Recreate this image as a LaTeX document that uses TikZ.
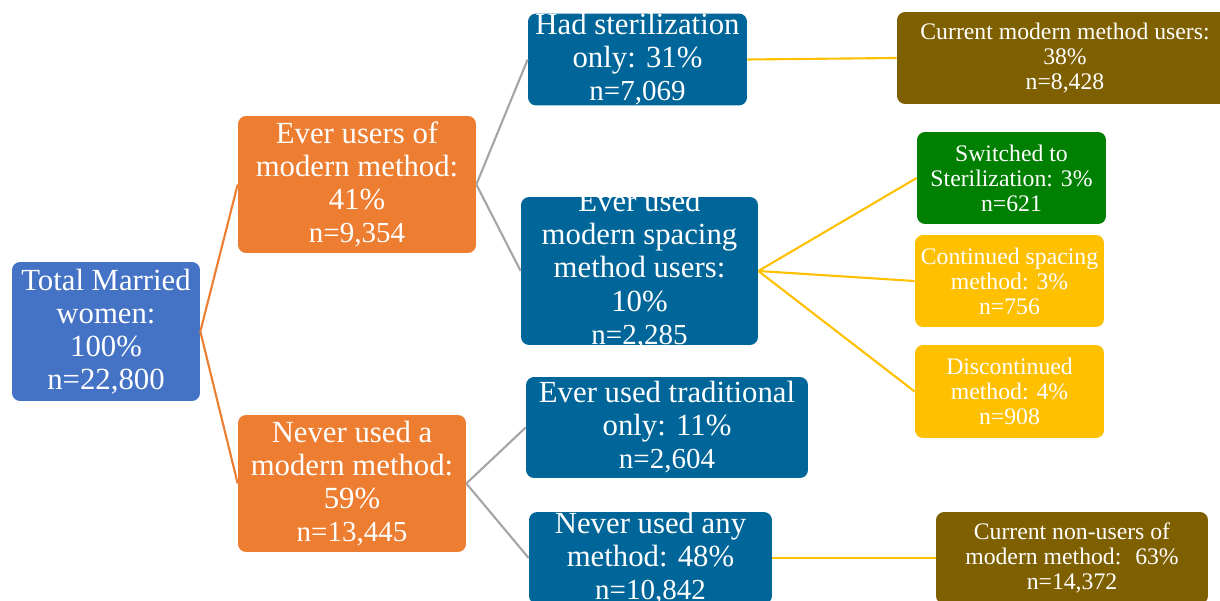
\documentclass[tikz,border=0pt]{standalone}
\usepackage{fontspec}
\setmainfont{Liberation Serif}
\usepackage{tikz}

\definecolor{totalblue}{HTML}{4472C4}
\definecolor{everorange}{HTML}{ED7D31}
\definecolor{deepblue}{HTML}{006699}
\definecolor{olivebrown}{HTML}{7F6000}
\definecolor{leafgreen}{HTML}{008000}
\definecolor{amber}{HTML}{FFC000}
\definecolor{linegray}{HTML}{A5A5A5}

\newcommand{\nline}[1]{{\fontsize{16.5}{18.8}\selectfont #1}}

\begin{document}
\begin{tikzpicture}[x=0.02cm,y=-0.02cm,
    box/.style={rounded corners=0.16cm, text=white, align=center, inner sep=0pt,
      font=\fontsize{17.5}{18.8}\selectfont},
    minibox/.style={box, font=\fontsize{13.5}{14.2}\selectfont},
    link/.style={line width=1.2pt}]
        \useasboundingbox (0,0) rectangle (1220,601);
        % first level
        \node[box, fill=totalblue, minimum width=3.76cm, minimum height=2.78cm] (total) at (106,331.5)
            {Total Married\\women:\\100\%\\n=22,800};
        \node[box, fill=everorange, minimum width=4.76cm, minimum height=2.74cm] (everm) at (357,184.5)
            {Ever users of\\modern method:\\41\%\\\nline{n=9,354}};
        \node[box, fill=everorange, minimum width=4.56cm, minimum height=2.74cm] (neverm) at (352,483.5)
            {Never used a\\modern method:\\59\%\\\nline{n=13,445}};
        % second level
        \node[box, fill=deepblue, minimum width=4.38cm, minimum height=1.82cm] (steril) at (637.5,59.5)
            {Had sterilization\\only: 31\%\\\nline{n=7,069}};
        % text runs past the box here, as in the source chart
        \node[box, fill=deepblue, minimum width=4.74cm, minimum height=2.96cm] (spacing) at (639.5,271)
            {\raisebox{-7pt}{\smash{\parbox[c]{4.74cm}{\centering
              Ever used\\modern spacing\\method users:\\10\%\\\nline{n=2,285}}}}};
        \node[box, fill=deepblue, minimum width=5.64cm, minimum height=2.02cm] (trad) at (667,427.5)
            {Ever used traditional\\only: 11\%\\\nline{n=2,604}};
        \node[box, fill=deepblue, minimum width=4.86cm, minimum height=1.76cm] (anym) at (650.5,558)
            {Never used any\\method: 48\%\\\nline{n=10,842}};
        % third level
        \node[minibox, fill=olivebrown, minimum width=6.72cm, minimum height=1.84cm] (curmod) at (1065,58)
            {Current modern method users:\\38\%\\n=8,428};
        \node[minibox, fill=leafgreen, minimum width=3.78cm, minimum height=1.84cm] (switched) at (1011.5,178)
            {Switched to\\Sterilization: 3\%\\n=621};
        \node[minibox, fill=amber, minimum width=3.78cm, minimum height=1.84cm] (contsp) at (1009.5,281)
            {Continued spacing\\method: 3\%\\n=756};
        \node[minibox, fill=amber, minimum width=3.78cm, minimum height=1.86cm] (discont) at (1009.5,391.5)
            {Discontinued\\method: 4\%\\n=908};
        \node[minibox, fill=olivebrown, minimum width=5.44cm, minimum height=1.84cm] (curnon) at (1072,558)
            {Current non-users of\\modern method:~ 63\%\\n=14,372};
        % connectors
        \draw[link, everorange] (total.east) -- (everm.west);
        \draw[link, everorange] (total.east) -- (neverm.west);
        \draw[link, linegray] (everm.east) -- (steril.west);
        \draw[link, linegray] (everm.east) -- (spacing.west);
        \draw[link, linegray] (neverm.east) -- (trad.west);
        \draw[link, linegray] (neverm.east) -- (anym.west);
        \draw[link, amber] (steril.east) -- (curmod.west);
        \draw[link, amber] (spacing.east) -- (switched.west);
        \draw[link, amber] (spacing.east) -- (contsp.west);
        \draw[link, amber] (spacing.east) -- (discont.west);
        \draw[link, amber] (anym.east) -- (curnon.west);
\end{tikzpicture}
\end{document}
